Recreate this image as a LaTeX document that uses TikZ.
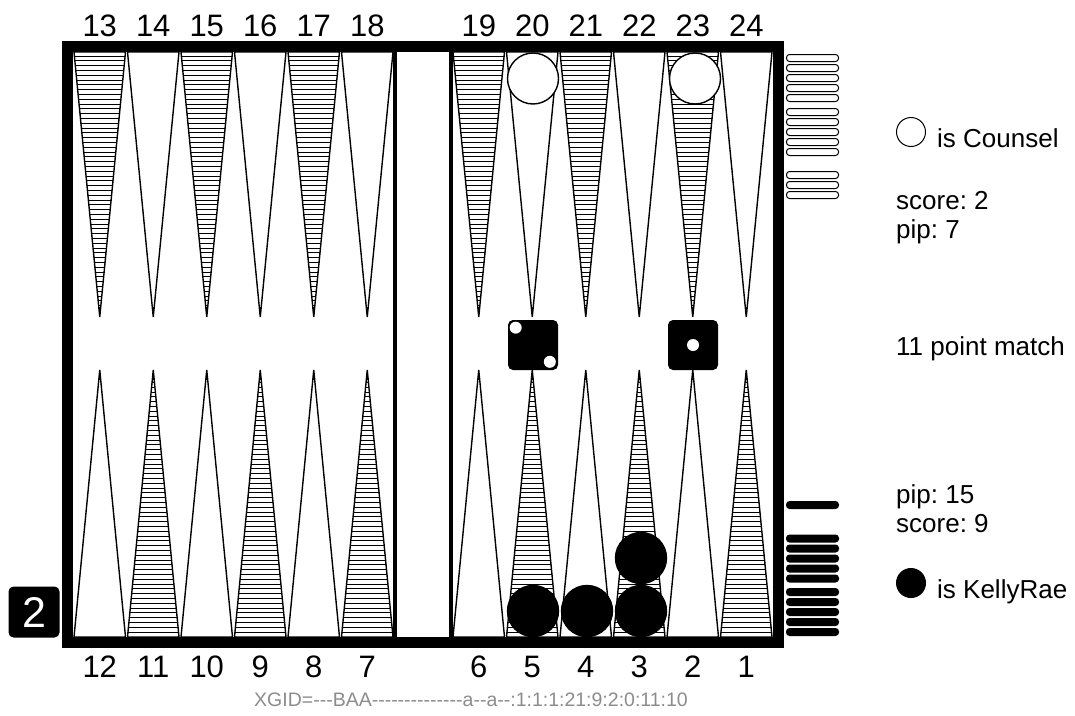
\documentclass[tikz,border=0pt]{standalone}
\usepackage{fontspec}
\setmainfont{Liberation Sans}
\newfontfamily\idfont{Liberation Sans}
\frenchspacing
\usetikzlibrary{positioning}
\tikzstyle{rim}=[draw,line width=11pt]
\tikzstyle{barline}=[draw,line width=4pt]
\tikzstyle{pointedge}=[draw,line width=1.4pt,line join=miter]
\tikzstyle{hatch}=[draw,line width=0.9pt]
\tikzstyle{checker}=[circle,draw,line width=1.4pt,minimum size=51pt,inner sep=0pt]
\tikzstyle{die}=[rectangle,rounded corners=5pt,fill=black,minimum size=50pt,inner sep=0pt]
\tikzstyle{pipdot}=[circle,fill=white,minimum size=12pt,inner sep=0pt]
\tikzstyle{cube}=[rectangle,rounded corners=5pt,fill=black,minimum size=51pt,inner sep=0pt,text=white,font=\fontsize{43}{43}\selectfont]
\tikzstyle{num}=[anchor=base,inner sep=0pt,font=\fontsize{31}{31}\selectfont]
\tikzstyle{info}=[anchor=base west,inner sep=0pt,font=\fontsize{26}{30}\selectfont]
\tikzstyle{chip}=[circle,draw,line width=1pt,minimum size=29pt,inner sep=0pt]
\tikzstyle{offwhite}=[draw,line width=1pt,rounded corners=3pt,fill=white]
\tikzstyle{offblack}=[fill=black,rounded corners=3.5pt]
\tikzstyle{xgid}=[anchor=base,inner sep=0pt,text=black!45,font=\idfont\fontsize{19.5}{21}\selectfont]

\begin{document}
\begin{tikzpicture}[x=1pt,y=-1pt]
        \useasboundingbox (0,0) rectangle (1075,715);

        \foreach \xl [count=\k from 0] in {73,126.5,180,233.5,287,340.5,452,505.5,559,612.5,666,719.5} {
          \ifodd\k\else
            \begin{scope}
              \clip (\xl+1,52) -- (\xl+52.5,52) -- (\xl+26.75,317) -- cycle;
              \foreach \hy in {56,60.8,...,317} \path[hatch] (\xl,\hy) -- (\xl+53.5,\hy);
            \end{scope}
          \fi
          \path[pointedge] (\xl+1,52) -- (\xl+52.5,52) -- (\xl+26.75,317) -- cycle;
          \ifodd\k
            \begin{scope}
              \clip (\xl+1,637) -- (\xl+52.5,637) -- (\xl+26.75,370) -- cycle;
              \foreach \hy in {632,627.2,...,370} \path[hatch] (\xl,\hy) -- (\xl+53.5,\hy);
            \end{scope}
          \fi
          \path[pointedge] (\xl+1,637) -- (\xl+52.5,637) -- (\xl+26.75,370) -- cycle;
        }

        \path[rim] (67,46) rectangle (778.5,642.5);
        \path[barline] (395,46) -- (395,642.5);
        \path[barline] (451,46) -- (451,642.5);

        \foreach \n [count=\k from 0] in {13,...,18} \node[num] (top\n) at ({99.75+53.5*\k},36) {\n};
        \foreach \n [count=\k from 0] in {19,...,24} \node[num] (top\n) at ({478.75+53.5*\k},36) {\n};
        \foreach \n [count=\k from 0] in {12,11,10,9,8,7} \node[num] (bot\n) at ({99.75+53.5*\k},677) {\n};
        \foreach \n [count=\k from 0] in {6,5,4,3,2,1} \node[num] (bot\n) at ({478.75+53.5*\k},677) {\n};

        \node[checker,fill=white] (w20) at (533,78.5) {};
        \node[checker,fill=white] (w23) at (695,78.5) {};
        \node[checker,fill=black] (b5) at (533,611) {};
        \node[checker,fill=black] (b4) at (587,611) {};
        \node[checker,fill=black] (b3) at (641,611) {};
        \node[checker,fill=black] (b3b) at (641,558) {};

        \node[die] (d1) at (533,345) {};
        \node[pipdot,below right=3.5pt and 3.5pt of d1.north west] (p1) {};
        \node[pipdot,above left=4pt and 4pt of d1.south east] (p2) {};
        \node[die] (d2) at (693,345) {};
        \node[pipdot] (p3) at (d2) {};

        \node[cube] (cube) at (34,612) {2};

        \foreach \ty in {54.5,64.5,74.5,84.5,94.5,108.5,118.5,128.5,138.5,148.5,171.5,181.5,191.5}
          \path[offwhite] (786.5,\ty) rectangle (838.5,\ty+7);
        \foreach \ty in {501,534.5,544.5,554.5,564.5,574.5,588,598,608,618,628}
          \path[offblack] (786,\ty) rectangle (839,\ty+8);

        \node[chip,fill=white] (cw) at (911,132) {};
        \node[info] (nw) at (937,147) {is Counsel};
        \node[info] (sw) at (896,209) {score: 2};
        \node[info] (pw) at (896,238) {pip: 7};
        \node[info] (match) at (896,355) {11 point match};
        \node[info] (pb) at (896,503) {pip: 15};
        \node[info] (sb) at (896,532) {score: 9};
        \node[chip,fill=black] (cb) at (911,583) {};
        \node[info] (nb) at (937,598) {is KellyRae};

        \node[xgid] (id) at (471,706) {XGID=---BAA--------------a--a--:1:1:1:21:9:2:0:11:10};
\end{tikzpicture}
\end{document}
